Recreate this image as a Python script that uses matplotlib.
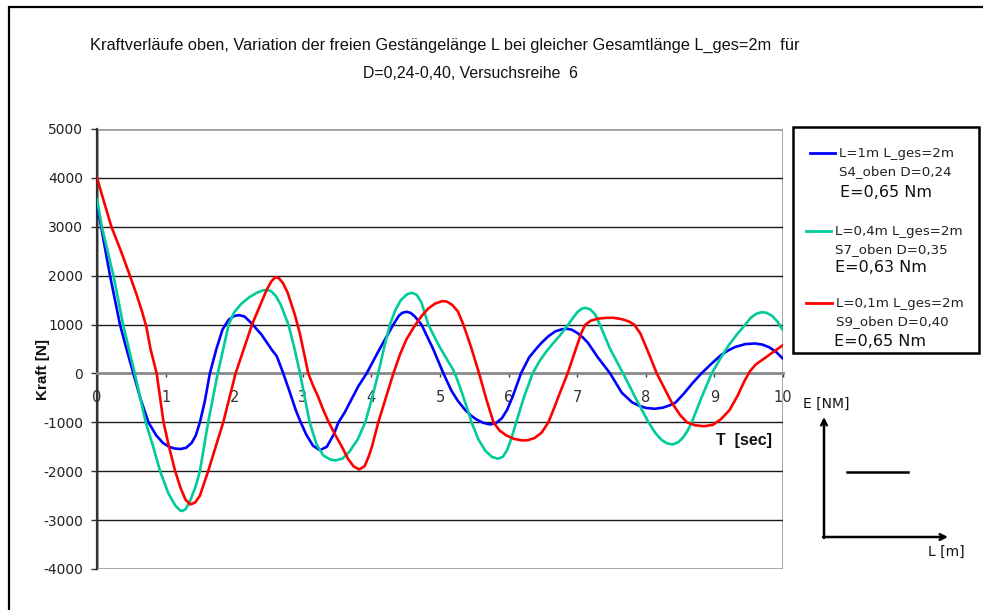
import matplotlib
matplotlib.use("Agg")
import matplotlib.pyplot as plt
from matplotlib.lines import Line2D
from matplotlib.patches import Rectangle, FancyArrowPatch

plt.rcParams["axes.unicode_minus"] = False

# --- data -------------------------------------------------------------
blue_t = [0.00, 0.06, 0.19, 0.335, 0.43, 0.53, 0.63, 0.75, 0.86, 0.96, 1.05, 1.13, 1.22, 1.30,
          1.38, 1.44, 1.50, 1.57, 1.645, 1.74, 1.83, 1.92, 2.00, 2.07, 2.15, 2.25, 2.40, 2.55,
          2.62, 2.70, 2.80, 2.90, 2.97, 3.05, 3.15, 3.25, 3.35, 3.45, 3.52, 3.61, 3.81, 3.93,
          4.12, 4.32, 4.40, 4.45, 4.51, 4.57, 4.63, 4.73, 4.90, 5.05, 5.17, 5.26, 5.36, 5.45,
          5.53, 5.63, 5.73, 5.82, 5.90, 5.98, 6.06, 6.18, 6.30, 6.40, 6.48, 6.58, 6.68, 6.78,
          6.85, 6.92, 7.00, 7.08, 7.16, 7.30, 7.48, 7.65, 7.80, 7.90, 8.00, 8.13, 8.25, 8.35,
          8.43, 8.55, 8.68, 8.81, 8.95, 9.10, 9.20, 9.30, 9.45, 9.59, 9.70, 9.80, 9.90, 10.00]
blue_v = [3450, 3000, 2000, 1000, 500, 0, -500, -1000, -1260, -1420, -1500, -1535, -1545, -1520,
          -1420, -1270, -1000, -580, 0, 500, 900, 1100, 1175, 1193, 1165, 1030, 790, 480,
          354, 60, -340, -760, -1000, -1250, -1480, -1570, -1500, -1250, -1000, -800, -260, 0,
          500, 1000, 1180, 1240, 1261, 1240, 1170, 1000, 500, 0, -361, -560, -736, -860,
          -940, -1010, -1043, -1010, -920, -740, -470, 0, 330, 500, 627, 760, 860, 905,
          913, 895, 830, 740, 620, 330, 0, -395, -590, -660, -705, -723, -700, -650,
          -600, -420, -200, 0, 190, 380, 470, 540, 600, 613, 590, 535, 440, 300]

green_t = [0.00, 0.07, 0.24, 0.38, 0.55, 0.71, 0.82, 0.92, 1.04, 1.14, 1.21, 1.24, 1.29, 1.36,
           1.44, 1.50, 1.62, 1.76, 1.92, 2.00, 2.10, 2.22, 2.33, 2.42, 2.48, 2.54, 2.61, 2.68,
           2.79, 2.88, 2.96, 3.03, 3.10, 3.20, 3.30, 3.40, 3.48, 3.58, 3.68, 3.80, 3.91, 4.01,
           4.10, 4.18, 4.27, 4.35, 4.43, 4.52, 4.59, 4.66, 4.73, 4.83, 4.90, 5.00, 5.10, 5.19,
           5.25, 5.32, 5.40, 5.46, 5.56, 5.66, 5.76, 5.85, 5.92, 5.98, 6.04, 6.12, 6.22, 6.35,
           6.45, 6.55, 6.65, 6.75, 6.85, 6.93, 7.00, 7.06, 7.12, 7.19, 7.26, 7.33, 7.48, 7.67,
           7.85, 8.04, 8.14, 8.23, 8.31, 8.39, 8.47, 8.54, 8.61, 8.67, 8.81, 8.96, 9.08, 9.20,
           9.33, 9.45, 9.53, 9.61, 9.69, 9.76, 9.84, 9.92, 10.00]
green_v = [3572, 3000, 2000, 1000, 0, -1000, -1500, -2000, -2450, -2700, -2800, -2816, -2780, -2600,
           -2300, -2000, -1000, 0, 1000, 1250, 1420, 1560, 1650, 1700, 1710, 1680, 1580, 1400,
           1000, 500, 0, -500, -1000, -1450, -1680, -1760, -1779, -1740, -1600, -1350, -1000, -500,
           0, 500, 1000, 1300, 1500, 1620, 1650, 1610, 1450, 1000, 800, 530, 290, 80,
           -120, -395, -730, -1000, -1350, -1580, -1710, -1745, -1700, -1560, -1330, -960, -500, 0,
           250, 450, 620, 780, 960, 1120, 1250, 1320, 1343, 1310, 1210, 1000, 500, 0,
           -500, -1000, -1220, -1360, -1430, -1452, -1410, -1315, -1170, -1000, -500, 0, 290, 559,
           800, 1000, 1140, 1220, 1254, 1240, 1180, 1060, 880]

red_t = [0.00, 0.10, 0.21, 0.35, 0.48, 0.58, 0.66, 0.72, 0.78, 0.87, 0.97, 1.05, 1.14, 1.22,
         1.29, 1.36, 1.43, 1.50, 1.56, 1.62, 1.73, 1.84, 1.93, 2.02, 2.14, 2.26, 2.38, 2.47,
         2.54, 2.60, 2.65, 2.71, 2.78, 2.89, 2.96, 3.02, 3.08, 3.15, 3.22, 3.30, 3.37, 3.47,
         3.57, 3.66, 3.74, 3.82, 3.90, 3.96, 4.01, 4.10, 4.21, 4.32, 4.42, 4.51, 4.62, 4.73,
         4.83, 4.93, 5.03, 5.10, 5.18, 5.26, 5.34, 5.45, 5.57, 5.68, 5.78, 5.87, 5.97, 6.08,
         6.20, 6.28, 6.38, 6.48, 6.58, 6.66, 6.75, 6.86, 6.98, 7.06, 7.12, 7.20, 7.30, 7.42,
         7.53, 7.65, 7.75, 7.83, 7.92, 8.04, 8.16, 8.27, 8.38, 8.50, 8.60, 8.72, 8.85, 8.98,
         9.10, 9.22, 9.34, 9.44, 9.52, 9.60, 9.70, 9.85, 10.00]
red_v = [4000, 3520, 3000, 2500, 2000, 1600, 1250, 950, 500, 0, -1000, -1500, -2000, -2350,
         -2580, -2680, -2640, -2500, -2250, -2000, -1500, -1000, -500, 0, 500, 1000, 1400, 1700,
         1880, 1970, 1950, 1850, 1650, 1172, 800, 400, 0, -250, -464, -750, -975, -1250,
         -1500, -1750, -1900, -1963, -1900, -1700, -1486, -1000, -500, 0, 400, 695, 950, 1172,
         1330, 1430, 1479, 1470, 1400, 1270, 1000, 550, 0, -550, -1000, -1170, -1270, -1340,
         -1370, -1365, -1320, -1213, -1000, -720, -390, 0, 500, 830, 1000, 1080, 1120, 1137,
         1139, 1110, 1065, 1000, 820, 420, 0, -300, -600, -850, -1000, -1060, -1080, -1050,
         -930, -750, -450, -150, 50, 180, 280, 430, 580]

series_t = [blue_t, green_t, red_t]
series_v = [blue_v, green_v, red_v]
series_colors = ["#0000FF", "#00CC99", "#FF0000"]
series_labels = ["L=1m L_ges=2m\nS4_oben D=0,24",
                 "L=0,4m L_ges=2m\nS7_oben D=0,35",
                 "L=0,1m L_ges=2m\nS9_oben D=0,40"]
energy_labels = ["E=0,65 Nm", "E=0,63 Nm", "E=0,65 Nm"]

x_ticks = list(range(0, 11))
y_ticks = list(range(-4000, 5001, 1000))

title_lines = ["Kraftverläufe oben, Variation der freien Gestängelänge L bei gleicher Gesamtlänge L_ges=2m  für",
               "D=0,24-0,40, Versuchsreihe  6"]

# --- figure -----------------------------------------------------------
W, H = 983, 610
fig = plt.figure(figsize=(W / 100, H / 100), dpi=100)


def fx(px):
    return px / W


def fy(py):
    return 1 - py / H


# outer chart frame (left and top edges visible)
fig.add_artist(Rectangle((fx(9), -0.2), 1.5, fy(7) + 0.2, transform=fig.transFigure,
                         fill=False, edgecolor="black", lw=1.6))

ax = fig.add_axes([fx(97), fy(569), fx(783) - fx(97), fy(129) - fy(569)])
ax.set_xlim(0, 10)
ax.set_ylim(-4000, 5000)

for t, v, c in zip(series_t, series_v, series_colors):
    ax.plot(t, v, color=c, lw=1.9, solid_joinstyle="round", solid_capstyle="round", zorder=4)

# grid and frame
ax.set_yticks(y_ticks)
ax.set_xticks(x_ticks)
ax.yaxis.grid(True, color="#1a1a1a", lw=1.0)
for gl, val in zip(ax.get_ygridlines(), y_ticks):
    if val in (5000, -4000, 0):
        gl.set_visible(False)

ax.add_patch(Rectangle((0, 0), 1, 1, transform=ax.transAxes, fill=False,
                       edgecolor="#a0a0a0", lw=2.0, zorder=1))
for side in ("top", "right"):
    ax.spines[side].set_visible(False)
ax.spines["left"].set_color("#333333")
ax.spines["left"].set_linewidth(1.6)
ax.spines["bottom"].set_position(("data", 0))
ax.spines["bottom"].set_color("#8a8a8a")
ax.spines["bottom"].set_linewidth(2.0)

ax.tick_params(axis="y", direction="out", length=4, width=1, color="#333333",
               pad=6, labelsize=10, labelcolor="#222222")
ax.tick_params(axis="x", direction="out", length=3, width=1, color="#333333",
               pad=9, labelsize=10.5, labelcolor="#333333")
for lab in ax.get_yticklabels() + ax.get_xticklabels():
    lab.set_fontfamily("DejaVu Sans")

# axis titles
fig.text(fx(43), fy(370), "Kraft [N]", rotation=90, ha="center", va="center",
         fontsize=11, fontweight="bold", family="Liberation Sans", color="#111111")
fig.text(fx(744), fy(440), "T  [sec]", ha="center", va="center",
         fontsize=11.5, fontweight="bold", family="Liberation Sans", color="#111111")

# chart title
fig.text(fx(445), fy(45), title_lines[0], ha="center", va="center", fontsize=11.8,
         family="Liberation Sans", color="#111111")
fig.text(fx(470), fy(73), title_lines[1], ha="center", va="center", fontsize=11.4,
         family="Liberation Sans", color="#111111")

# legend box
fig.add_artist(Rectangle((fx(793), fy(353)), fx(979) - fx(793), fy(127) - fy(353),
                         transform=fig.transFigure, fill=False, edgecolor="black", lw=1.8))
entry_line_y = [153, 231, 303]
entry_line_x = [(810, 835), (806, 831), (806, 832)]
entry_text_x = [839, 835, 836]
entry_e_pos = [(840, 192), (835, 268), (834, 342)]
for i in range(3):
    y = entry_line_y[i]
    x0, x1 = entry_line_x[i]
    fig.add_artist(Line2D([fx(x0), fx(x1)], [fy(y), fy(y)], transform=fig.transFigure,
                          color=series_colors[i], lw=2.0))
    l1, l2 = series_labels[i].split("\n")
    fig.text(fx(entry_text_x[i]), fy(y), l1, ha="left", va="center", fontsize=9.6,
             family="DejaVu Sans", color="#222222")
    fig.text(fx(entry_text_x[i]), fy(y + 19), l2, ha="left", va="center", fontsize=9.6,
             family="DejaVu Sans", color="#222222")
    ex, ey = entry_e_pos[i]
    fig.text(fx(ex), fy(ey), energy_labels[i], ha="left", va="center", fontsize=11.5,
             family="DejaVu Sans", color="#111111")

# small E-over-L sketch
fig.add_artist(FancyArrowPatch((fx(824), fy(538)), (fx(824), fy(417)), transform=fig.transFigure,
                               arrowstyle="->", mutation_scale=10, lw=1.8, color="black",
                               shrinkA=0, shrinkB=0))
fig.add_artist(FancyArrowPatch((fx(823), fy(537)), (fx(948), fy(537)), transform=fig.transFigure,
                               arrowstyle="->", mutation_scale=10, lw=1.8, color="black",
                               shrinkA=0, shrinkB=0))
fig.add_artist(Line2D([fx(847), fx(908)], [fy(472), fy(472)], transform=fig.transFigure,
                      color="black", lw=1.8))
fig.text(fx(826), fy(404), "E [NM]", ha="center", va="center", fontsize=10,
         family="DejaVu Sans", color="#111111")
fig.text(fx(946), fy(552), "L [m]", ha="center", va="center", fontsize=10,
         family="DejaVu Sans", color="#111111")

fig.savefig("out.png", dpi=100)
